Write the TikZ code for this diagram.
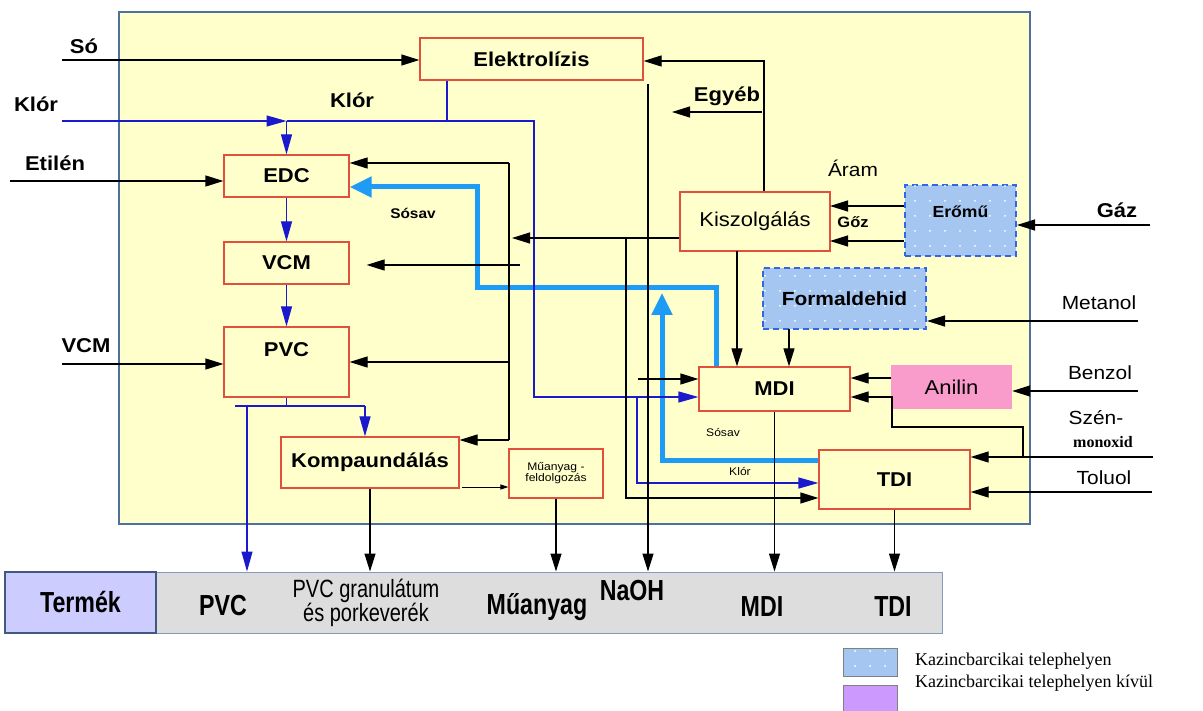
\documentclass[tikz,border=0pt]{standalone}
\usepackage{fontspec}
\setmainfont{Liberation Sans}[FakeStretch=1.1]
\newfontfamily\legfont{Liberation Serif}
\newfontfamily\barfont{Liberation Sans}[FakeStretch=0.8]
\usetikzlibrary{arrows.meta, patterns.meta}

\definecolor{bgyellow}{HTML}{FFFFCC}
\definecolor{frameblue}{HTML}{4F6F9F}
\definecolor{boxred}{HTML}{E0503C}
\definecolor{hclblue}{HTML}{1E9BF5}
\definecolor{klorblue}{HTML}{1A1ACC}
\definecolor{dotblue}{HTML}{A4C6F0}
\definecolor{dotborder}{HTML}{3366E6}
\definecolor{anilinpink}{HTML}{F99BCB}
\definecolor{lavender}{HTML}{CCCCFF}
\definecolor{bargray}{HTML}{DDDDDD}
\definecolor{legpurple}{HTML}{CC99FF}

\newcommand\txtsize[1]{\fontsize{#1}{#1}\selectfont}

\begin{document}
\begin{tikzpicture}[
	x=1pt, y=-1pt,
	wh/.style 2 args={minimum width=#1pt, minimum height=#2pt},
	box/.style={
		draw=boxred, line width=1.2pt, fill=bgyellow,
		inner sep=0pt, align=center, font=\bfseries\txtsize{20}
	},
	site/.style={
		draw=dotborder, line width=2pt, dash pattern=on 6pt off 4pt,
		fill=dotblue, postaction={pattern={Dots[radius=1pt,distance=15pt]}, pattern color=white},
		inner sep=0pt, align=center
	},
	lab/.style={font=\bfseries\txtsize{20}, inner sep=0pt},
	labr/.style={font=\txtsize{19}, inner sep=0pt},
	small/.style={font=\txtsize{11}, inner sep=0pt, align=center},
	prod/.style={font=\barfont\bfseries\txtsize{29}, inner sep=0pt, align=center},
	pipe/.style={line width=1.2pt},
	arr/.style={-{Triangle[length=18pt,width=11pt]}, line width=1.2pt},
	sarr/.style={-{Triangle[length=8pt,width=5pt]}, line width=1pt},
	bpipe/.style={line width=1.2pt, color=klorblue},
	barr/.style={-{Triangle[length=20pt,width=11pt]}, line width=1.2pt, color=klorblue},
	hcl/.style={-{Triangle[length=22pt,width=20pt]}, line width=5pt, color=hclblue},
	]
	\useasboundingbox (0,0) rectangle (1203,711);
	
	% Plant area and product bar
	\node[draw=frameblue, line width=1.5pt, fill=bgyellow, wh={911}{512}, inner sep=0pt] (plant) at (574.5,268) {};
	\node[draw=frameblue!70, line width=1pt, fill=bargray, wh={786}{61}, inner sep=0pt] (bar) at (549,602.5) {};
	\node[draw=frameblue!80!black, line width=1.5pt, fill=lavender, wh={151}{61}, prod] (termek) at (80.5,602.5) {Termék};
	
	% Units
	\node[box, wh={223}{42}] (elektro) at (531.5,59) {Elektrolízis};
	\node[box, wh={125}{42}] (edc) at (286.5,176) {EDC};
	\node[box, wh={125}{42}] (vcm) at (286.5,263) {VCM};
	\node[box, wh={125}{70}, text height=15pt, text depth=25pt] (pvc) at (286.5,362) {PVC};
	\node[box, wh={178}{51}] (komp) at (370,462.5) {Kompaundálás};
	\node[box, wh={94}{49}, font=\txtsize{11}] (muany) at (556,473.5) {Műanyag -\\feldolgozás};
	\node[box, wh={150}{59}, font=\txtsize{20}] (kiszol) at (755,221.5) {Kiszolgálás};
	\node[box, wh={151}{44}] (mdi) at (774.5,389) {MDI};
	\node[box, wh={151}{59}] (tdi) at (894.5,479.5) {TDI};
	\node[site, wh={111}{71}, font=\bfseries\txtsize{16}, text height=12pt, text depth=17pt] (eromu) at (960.5,220.5) {Erőmű};
	\node[site, wh={163}{61}, font=\bfseries\txtsize{19}] (formal) at (844.5,298.5) {Formaldehid};
	\node[fill=anilinpink, wh={121}{44}, font=\txtsize{20}, inner sep=0pt] (anilin) at (951.5,387) {Anilin};
	
	% Free ends and bends
	\coordinate (so) at (62,60);
	\coordinate (klor) at (62,121);
	\coordinate (klorjn) at (286.5,121);
	\coordinate (elkl) at (447,121);
	\coordinate (kl1) at (534,121);
	\coordinate (kl2) at (534,397);
	\coordinate (kl3) at (637,397);
	\coordinate (kl4) at (637,483);
	\coordinate (etilen) at (10,181);
	\coordinate (vcmin) at (62,364);
	\coordinate (pvcl) at (235,406);
	\coordinate (pvcr) at (365,406);
	\coordinate (pvcdn) at (247,406);
	\coordinate (kmu) at (462,487);
	\coordinate (ut1) at (764,61);
	\coordinate (ut2) at (762,112);
	\coordinate (egyeb) at (672,112);
	\coordinate (ut3) at (512,238);
	\coordinate (ut4t) at (509,163);
	\coordinate (ut4b) at (509,440);
	\coordinate (ut5) at (520,265);
	\coordinate (ut6t) at (626,238);
	\coordinate (ut6b) at (626,498);
	\coordinate (naoh) at (648,84);
	\coordinate (ut7) at (638,379);
	\coordinate (ut8) at (737,251);
	\coordinate (form) at (789,329);
	\coordinate (aram) at (830,206);
	\coordinate (goz) at (830,241);
	\coordinate (gaz) at (1150,225);
	\coordinate (metanol) at (1138,321);
	\coordinate (benzol) at (1138,391);
	\coordinate (anil) at (891,378);
	\coordinate (co) at (1153,457);
	\coordinate (co1) at (1023,457);
	\coordinate (co2) at (1023,427);
	\coordinate (co3) at (892,427);
	\coordinate (co4) at (892,397);
	\coordinate (toluol) at (1152,492);
	\coordinate (hcl1) at (716,288);
	\coordinate (hcl2) at (477,288);
	\coordinate (hcl3) at (477,187);
	\coordinate (hcl4) at (662,460);
	\coordinate (hcl5) at (662,293);
	
	% Hydrochloric acid recycle (thick)
	\draw[hcl] (mdi.north -| hcl1) -- (hcl1) -- (hcl2) -- (hcl3) -- (hcl3 -| edc.east);
	\draw[hcl] (tdi.west |- hcl4) -- (hcl4) -- (hcl5);
	
	% Chlorine
	\draw[barr] (klor) -- (klorjn);
	\draw[barr] (klorjn) -- (edc.north);
	\draw[bpipe] (elektro.south -| elkl) -- (elkl);
	\draw[barr] (klorjn) -- (kl1) -- (kl2) -- (kl2 -| mdi.west);
	\draw[barr] (kl3) -- (kl4) -- (kl4 -| tdi.west);
	
	% PVC chain
	\draw[arr] (so) -- (so -| elektro.west);
	\draw[arr] (etilen) -- (etilen -| edc.west);
	\draw[barr] (edc.south) -- (vcm.north);
	\draw[barr] (vcm.south) -- (pvc.north);
	\draw[arr] (vcmin) -- (vcmin -| pvc.west);
	\draw[bpipe] (pvc.south) -- (pvc.south |- pvcl);
	\draw[bpipe] (pvcl) -- (pvcr);
	\draw[barr] (pvcr) -- (pvcr |- komp.north);
	\draw[barr] (pvcdn) -- (pvcdn |- bar.north);
	\draw[arr] (komp.south) -- (komp.south |- bar.north);
	\draw[sarr] (kmu) -- (kmu -| muany.west);
	\draw[arr] (muany.south) -- (muany.south |- bar.north);
	
	% Utilities
	\draw[arr] (kiszol.north -| ut1) -- (ut1) -- (ut1 -| elektro.east);
	\draw[arr] (ut2) -- (egyeb);
	\draw[arr] (kiszol.west |- ut3) -- (ut3);
	\draw[pipe] (ut4t) -- (ut4b);
	\draw[arr] (ut4t) -- (ut4t -| edc.east);
	\draw[arr, shorten >=17pt] (ut5) -- (ut5 -| vcm.east);
	\draw[arr] (ut4t |- pvc.east) -- (pvc.east);
	\draw[arr] (ut4b) -- (ut4b -| komp.east);
	\draw[arr] (ut6t) -- (ut6b) -- (ut6b -| tdi.west);
	\draw[arr] (naoh) -- (naoh |- bar.north);
	\draw[arr] (ut7) -- (ut7 -| mdi.west);
	\draw[arr] (ut8) -- (ut8 |- mdi.north);
	\draw[arr] (form) -- (form |- mdi.north);
	\draw[arr] (eromu.west |- aram) -- (aram);
	\draw[arr] (eromu.west |- goz) -- (goz);
	
	% Raw materials
	\draw[arr] (gaz) -- (gaz -| eromu.east);
	\draw[arr] (metanol) -- (metanol -| formal.east);
	\draw[arr] (benzol) -- (benzol -| anilin.east);
	\draw[arr] (anil) -- (anil -| mdi.east);
	\draw[arr] (co) -- (co -| tdi.east);
	\draw[arr] (co1) -- (co2) -- (co3) -- (co4) -- (co4 -| mdi.east);
	\draw[arr] (toluol) -- (toluol -| tdi.east);
	\draw[arr] (mdi.south) -- (mdi.south |- bar.north);
	\draw[arr] (tdi.south) -- (tdi.south |- bar.north);
	
	% Stream labels
	\node[lab] (l-so) at (84,46) {Só};
	\node[lab] (l-klor) at (36,104) {Klór};
	\node[lab] (l-etilen) at (55,163) {Etilén};
	\node[lab] (l-vcm) at (86,346) {VCM};
	\node[lab] (l-klor2) at (352,100) {Klór};
	\node[lab] (l-egyeb) at (727,96) {Egyéb};
	\node[labr] (l-aram) at (853,168) {Áram};
	\node[lab, font=\bfseries\txtsize{15}] (l-goz) at (853,222) {Gőz};
	\node[lab, font=\bfseries\txtsize{14}] (l-sosav) at (413,213) {Sósav};
	\node[lab] (l-gaz) at (1117,210) {Gáz};
	\node[labr] (l-metanol) at (1099,303) {Metanol};
	\node[labr] (l-benzol) at (1100,373) {Benzol};
	\node[labr] (l-szen) at (1096,418) {Szén-};
	\node[font=\legfont\bfseries\txtsize{16}, inner sep=0pt] (l-monox) at (1103,442) {monoxid};
	\node[labr] (l-toluol) at (1104,478) {Toluol};
	\node[small] (l-sosav2) at (723,433) {Sósav};
	\node[small] (l-klor3) at (740,472) {Klór};
	
	% Products
	\node[prod] (p-pvc) at (223,606) {PVC};
	\node[prod, font=\barfont\fontsize{25}{22}\selectfont] (p-gran) at (366,603) {PVC granulátum\\és porkeverék};
	\node[prod] (p-muany) at (537,607) {Műanyag};
	\node[prod] (p-naoh) at (632,591) {NaOH};
	\node[prod] (p-mdi) at (762,607) {MDI};
	\node[prod] (p-tdi) at (893,607) {TDI};
	
	% Legend
	\node[draw=gray, line width=1pt, fill=dotblue, postaction={pattern={Dots[radius=1pt,distance=15pt]}, pattern color=white}, wh={54}{28}, inner sep=0pt] (leg-in) at (870,662) {};
	\node[draw=gray, line width=1pt, fill=legpurple, wh={54}{30}, inner sep=0pt] (leg-out) at (870,700) {};
	\node[font=\legfont\txtsize{18}, anchor=west, inner sep=0pt] (t-in) at (915,661) {Kazincbarcikai telephelyen};
	\node[font=\legfont\txtsize{18}, anchor=west, inner sep=0pt] (t-out) at (915,683) {Kazincbarcikai telephelyen kívül};
	
\end{tikzpicture}
\end{document}
